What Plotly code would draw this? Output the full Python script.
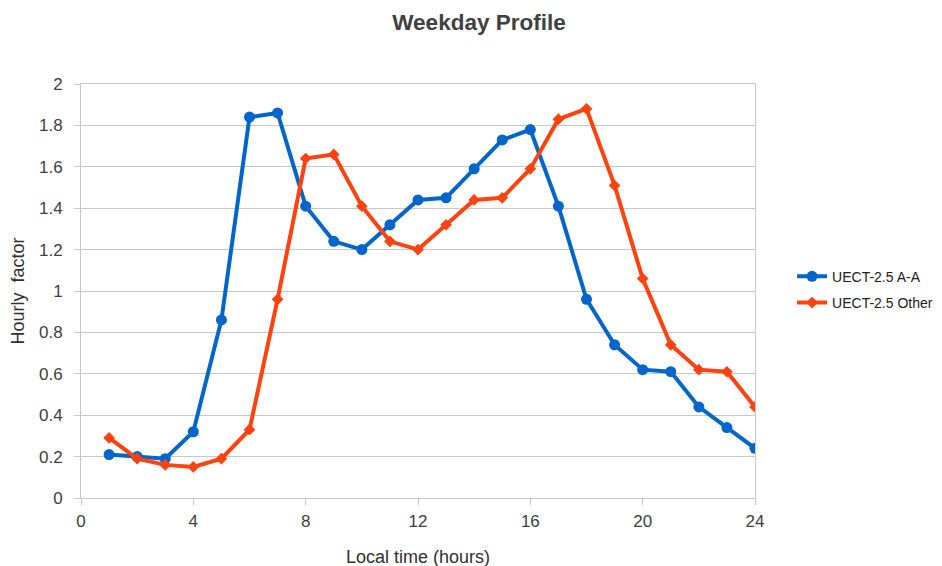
import plotly.graph_objects as go

hours = list(range(1, 25))
aa_values = [0.21, 0.20, 0.19, 0.32, 0.86, 1.84, 1.86, 1.41, 1.24, 1.20, 1.32, 1.44,
             1.45, 1.59, 1.73, 1.78, 1.41, 0.96, 0.74, 0.62, 0.61, 0.44, 0.34, 0.24]
other_values = [0.29, 0.19, 0.16, 0.15, 0.19, 0.33, 0.96, 1.64, 1.66, 1.41, 1.24, 1.20,
                1.32, 1.44, 1.45, 1.59, 1.83, 1.88, 1.51, 1.06, 0.74, 0.62, 0.61, 0.44]
series_names = ["UECT-2.5 A-A", "UECT-2.5 Other"]
x_ticks = [0, 4, 8, 12, 16, 20, 24]
y_ticks = [0, 0.2, 0.4, 0.6, 0.8, 1, 1.2, 1.4, 1.6, 1.8, 2]

BLUE = "#0066CC"
ORANGE = "#FF420E"
FONT = "Liberation Sans, Arial, sans-serif"

fig = go.Figure()
fig.add_trace(go.Scatter(x=hours, y=aa_values, name=series_names[0], mode="lines+markers",
                         legendgroup="a",
                         line=dict(color=BLUE, width=4),
                         marker=dict(symbol="circle", size=11, color=BLUE)))
fig.add_trace(go.Scatter(x=hours, y=other_values, name=series_names[1], mode="lines+markers",
                         legendgroup="b",
                         line=dict(color=ORANGE, width=4),
                         marker=dict(symbol="diamond", size=9, color=ORANGE)))

fig.update_layout(
    width=942, height=566,
    margin=dict(l=73, r=190, t=76, b=76),
    paper_bgcolor="white", plot_bgcolor="white",
    font=dict(family=FONT, color="#404040", size=17),
    title=dict(text="<b>Weekday Profile</b>", x=0.5, xanchor="center", y=0.975, yanchor="middle",
               font=dict(size=22.5, color="#404040", family=FONT)),
    legend=dict(x=1.055, y=0.503, xanchor="left", yanchor="middle",
                font=dict(size=14, color="#202020"), bgcolor="rgba(0,0,0,0)",
                traceorder="grouped", tracegroupgap=5, itemwidth=30),
    showlegend=True,
)
fig.update_xaxes(range=[0, 24], tickvals=x_ticks, showgrid=False, automargin=False,
                 showline=True, linecolor="#C8C8C8", linewidth=1, mirror=True,
                 ticks="outside", ticklen=6, tickcolor="#C8C8C8",
                 ticklabelstandoff=2,
                 tickfont=dict(size=17, color="#404040"),
                 title=dict(text="Local time (hours)", font=dict(size=18, color="#303030"), standoff=19),
                 zeroline=False)
fig.update_yaxes(range=[0, 2], tickvals=y_ticks, showgrid=True, gridcolor="#C8C8C8", gridwidth=1,
                 automargin=False,
                 showline=True, linecolor="#C8C8C8", linewidth=1, mirror=True,
                 ticks="outside", ticklen=6, tickcolor="#C8C8C8",
                 ticklabelstandoff=8,
                 tickfont=dict(size=17, color="#404040"),
                 title=dict(text="Hourly  factor", font=dict(size=18, color="#303030"), standoff=10),
                 zeroline=False)

fig.write_html("out.html")
